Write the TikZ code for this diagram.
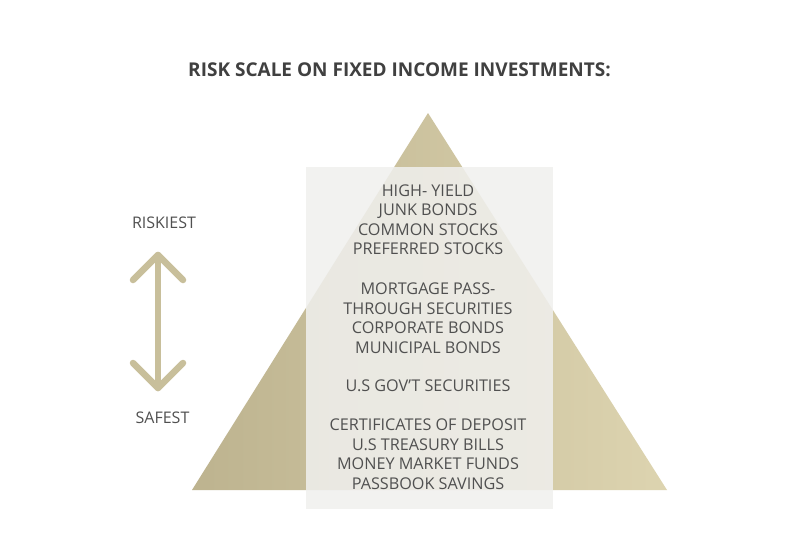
\documentclass[tikz,border=0pt]{standalone}
\usepackage{fontspec}
\setmainfont{Open Sans}
\usetikzlibrary{shapes.geometric}
\definecolor{tanL}{HTML}{BDB38F}
\definecolor{tanR}{HTML}{DDD4B0}
\definecolor{arrowc}{HTML}{C8BF9B}
\definecolor{txt}{HTML}{505050}
\definecolor{ttl}{HTML}{404040}
\tikzset{
  item/.style={text=txt, font=\fontsize{16.2}{19.5}\selectfont, align=center, inner sep=0pt},
  side/.style={text=txt, font=\fontsize{16}{19}\selectfont, inner sep=0pt},
  arr/.style={draw=arrowc, line width=6.5pt, line cap=round, line join=round}
}
\begin{document}
\begin{tikzpicture}[x=1pt,y=-1pt]
\useasboundingbox (0,0) rectangle (800,546);
\fill[white] (0,0) rectangle (800,546);
% pyramid
\shade[left color=tanL, right color=tanR] (428,113) -- (667,490) -- (192,490) -- cycle;
% overlay panel
\fill[fill={rgb,255:red,240;green,240;blue,238}, fill opacity=0.86] (306,167) rectangle (553,509);
% title
\node[text=ttl, font=\fontsize{19}{23}\selectfont\bfseries, inner sep=0pt] (title) at (399.5,70) {RISK SCALE ON FIXED INCOME INVESTMENTS:};
% items
\node[item, anchor=north] (g1) at (428,184.5) {HIGH- YIELD\\JUNK BONDS\\COMMON STOCKS\\PREFERRED STOCKS};
\node[item, anchor=north] (g2) at (428,283) {MORTGAGE PASS-\\THROUGH SECURITIES\\CORPORATE BONDS\\MUNICIPAL BONDS};
\node[item, anchor=north] (g3) at (428,380) {U.S GOV’T SECURITIES};
\node[item, anchor=north] (g4) at (428,419) {CERTIFICATES OF DEPOSIT\\U.S TREASURY BILLS\\MONEY MARKET FUNDS\\PASSBOOK SAVINGS};
% side scale
\node[side] (risk) at (164,223) {RISKIEST};
\node[side] (safe) at (162.5,418) {SAFEST};
\coordinate (atop) at (158,255);
\coordinate (abot) at (158,388);
\draw[arr] (atop) -- (abot);
\draw[arr] ([shift={(-25,25)}]atop) -- (atop) -- ([shift={(25,25)}]atop);
\draw[arr] ([shift={(-25,-25)}]abot) -- (abot) -- ([shift={(25,-25)}]abot);
\end{tikzpicture}
\end{document}
